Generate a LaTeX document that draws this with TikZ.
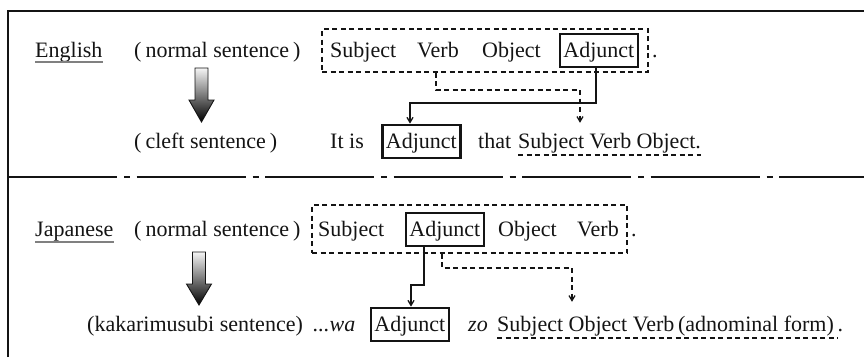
\documentclass[tikz,border=0pt]{standalone}
\usepackage{fontspec}
\setmainfont{Liberation Serif}
\usetikzlibrary{arrows.meta}
\definecolor{ink}{HTML}{141414}
\begin{document}
\begin{tikzpicture}[x=1pt,y=-1pt,
  every node/.style={font=\fontsize{22}{26}\selectfont, text=ink},
  txt/.style={anchor=base west, inner xsep=0pt, inner ysep=0pt, text height=16pt, text depth=5pt},
  keybox/.style={txt, draw=ink, line width=2.8pt, text height=23pt, text depth=10pt, minimum width=78pt},
  groupbox/.style={draw=ink, line width=1.3pt, dash pattern=on 5pt off 3.5pt, inner sep=0pt},
  link/.style={draw=ink, line width=1.3pt, -{Straight Barb[length=5pt,width=6pt]}},
  dlink/.style={link, dash pattern=on 5pt off 3.5pt},
  uline/.style={draw=ink, line width=1.3pt, dash pattern=on 5pt off 3.5pt},
  langline/.style={draw=gray, line width=1.4pt},
  flow/.style={draw=ink, line width=0.9pt, top color=gray!8, bottom color=black},
]
\useasboundingbox (0,0) rectangle (864,357);

% outer frame and the dash-dot divider between the two languages
\draw[ink, line width=1.6pt] (8,357) -- (8,11) -- (864,11);
\draw[ink, line width=1.8pt, dash pattern=on 109pt off 7pt on 6pt off 6.5pt] (8,177) -- (864,177);

% ---- English: normal sentence ----
\node[txt] (eng) at (35,57) {English};
\node[txt] (en-norm) at (134,57) {(\hspace{4pt}normal sentence\hspace{4pt})};
\node[groupbox, minimum width=326pt, minimum height=43pt] (en-group) at (485,50.5) {};
\node[txt] (en-subj) at (330,57) {Subject};
\node[txt] (en-verb) at (417,57) {Verb};
\node[txt] (en-obj) at (482,57) {Object};
\node[keybox] (en-adj) at (558.5,57) {Adjunct};
\node[txt] (en-dot) at (652,57) {.};

% ---- English: cleft sentence ----
\node[txt] (en-cleft) at (134,148) {(\hspace{4pt}cleft sentence\hspace{4pt})};
\node[txt] (it-is) at (330,148) {It is};
\node[keybox] (cl-adj) at (381,148) {Adjunct};
\node[txt] (that) at (478,148) {that};
\node[txt, inner ysep=9pt] (cl-rest) at (518,148) {Subject Verb Object.};

% ---- Japanese: normal sentence ----
\node[txt] (jp) at (35,236) {Japanese};
\node[txt] (jp-norm) at (134,236) {(\hspace{4pt}normal sentence\hspace{4pt})};
\node[groupbox, minimum width=315pt, minimum height=48pt] (jp-group) at (469.5,229) {};
\node[txt] (jp-subj) at (318,236) {Subject};
\node[keybox] (jp-adj) at (404.5,236) {Adjunct};
\node[txt] (jp-obj) at (498,236) {Object};
\node[txt] (jp-verb) at (577,236) {Verb};
\node[txt] (jp-dot) at (631,236) {.};

% ---- Japanese: kakarimusubi sentence ----
\node[txt] (jp-kakari) at (87,331) {(kakarimusubi sentence)};
\node[txt] (wa) at (313,331) {\textit{...wa}};
\node[keybox] (km-adj) at (369.5,331) {Adjunct};
\node[txt] (zo) at (468,331) {\textit{zo}};
\node[txt, inner ysep=13pt] (km-rest) at (497,331) {Subject Object Verb\,(adnominal form)\,.};

% underlines
\draw[langline] ([yshift=-5pt]eng.base west) -- ([yshift=-5pt]eng.base east);
\draw[langline] ([yshift=-6pt]jp.base west) -- ([yshift=-6pt]jp.base east);
\draw[uline] ([yshift=-7pt]cl-rest.base west) -- ([yshift=-7pt]cl-rest.base east);
\draw[uline] ([yshift=-7pt]km-rest.base west) -- ([xshift=-6pt,yshift=-7pt]km-rest.base east);

% shaded transformation arrows
\path[flow] (195,68) -- (208,68) -- (208,100) -- (214,100) -- (201.5,122) -- (189,100) -- (195,100) -- cycle;
\path[flow] (192.5,252) -- (205.5,252) -- (205.5,284) -- (211.5,284) -- (199,305) -- (186.5,284) -- (192.5,284) -- cycle;

% movement connectors
\draw[link] (en-adj.south -| 596,0) |- (410,103) -- (cl-adj.north -| 410,0);
\draw[dlink] (en-group.south -| 436,0) |- (580,90) -- (cl-rest.north -| 580,0);
\draw[link] (jp-adj.south -| 424,0) |- (411,285) -- (km-adj.north -| 411,0);
\draw[dlink] (jp-group.south -| 442,0) |- (572,268) -- (km-rest.north -| 572,0);
\end{tikzpicture}
\end{document}
